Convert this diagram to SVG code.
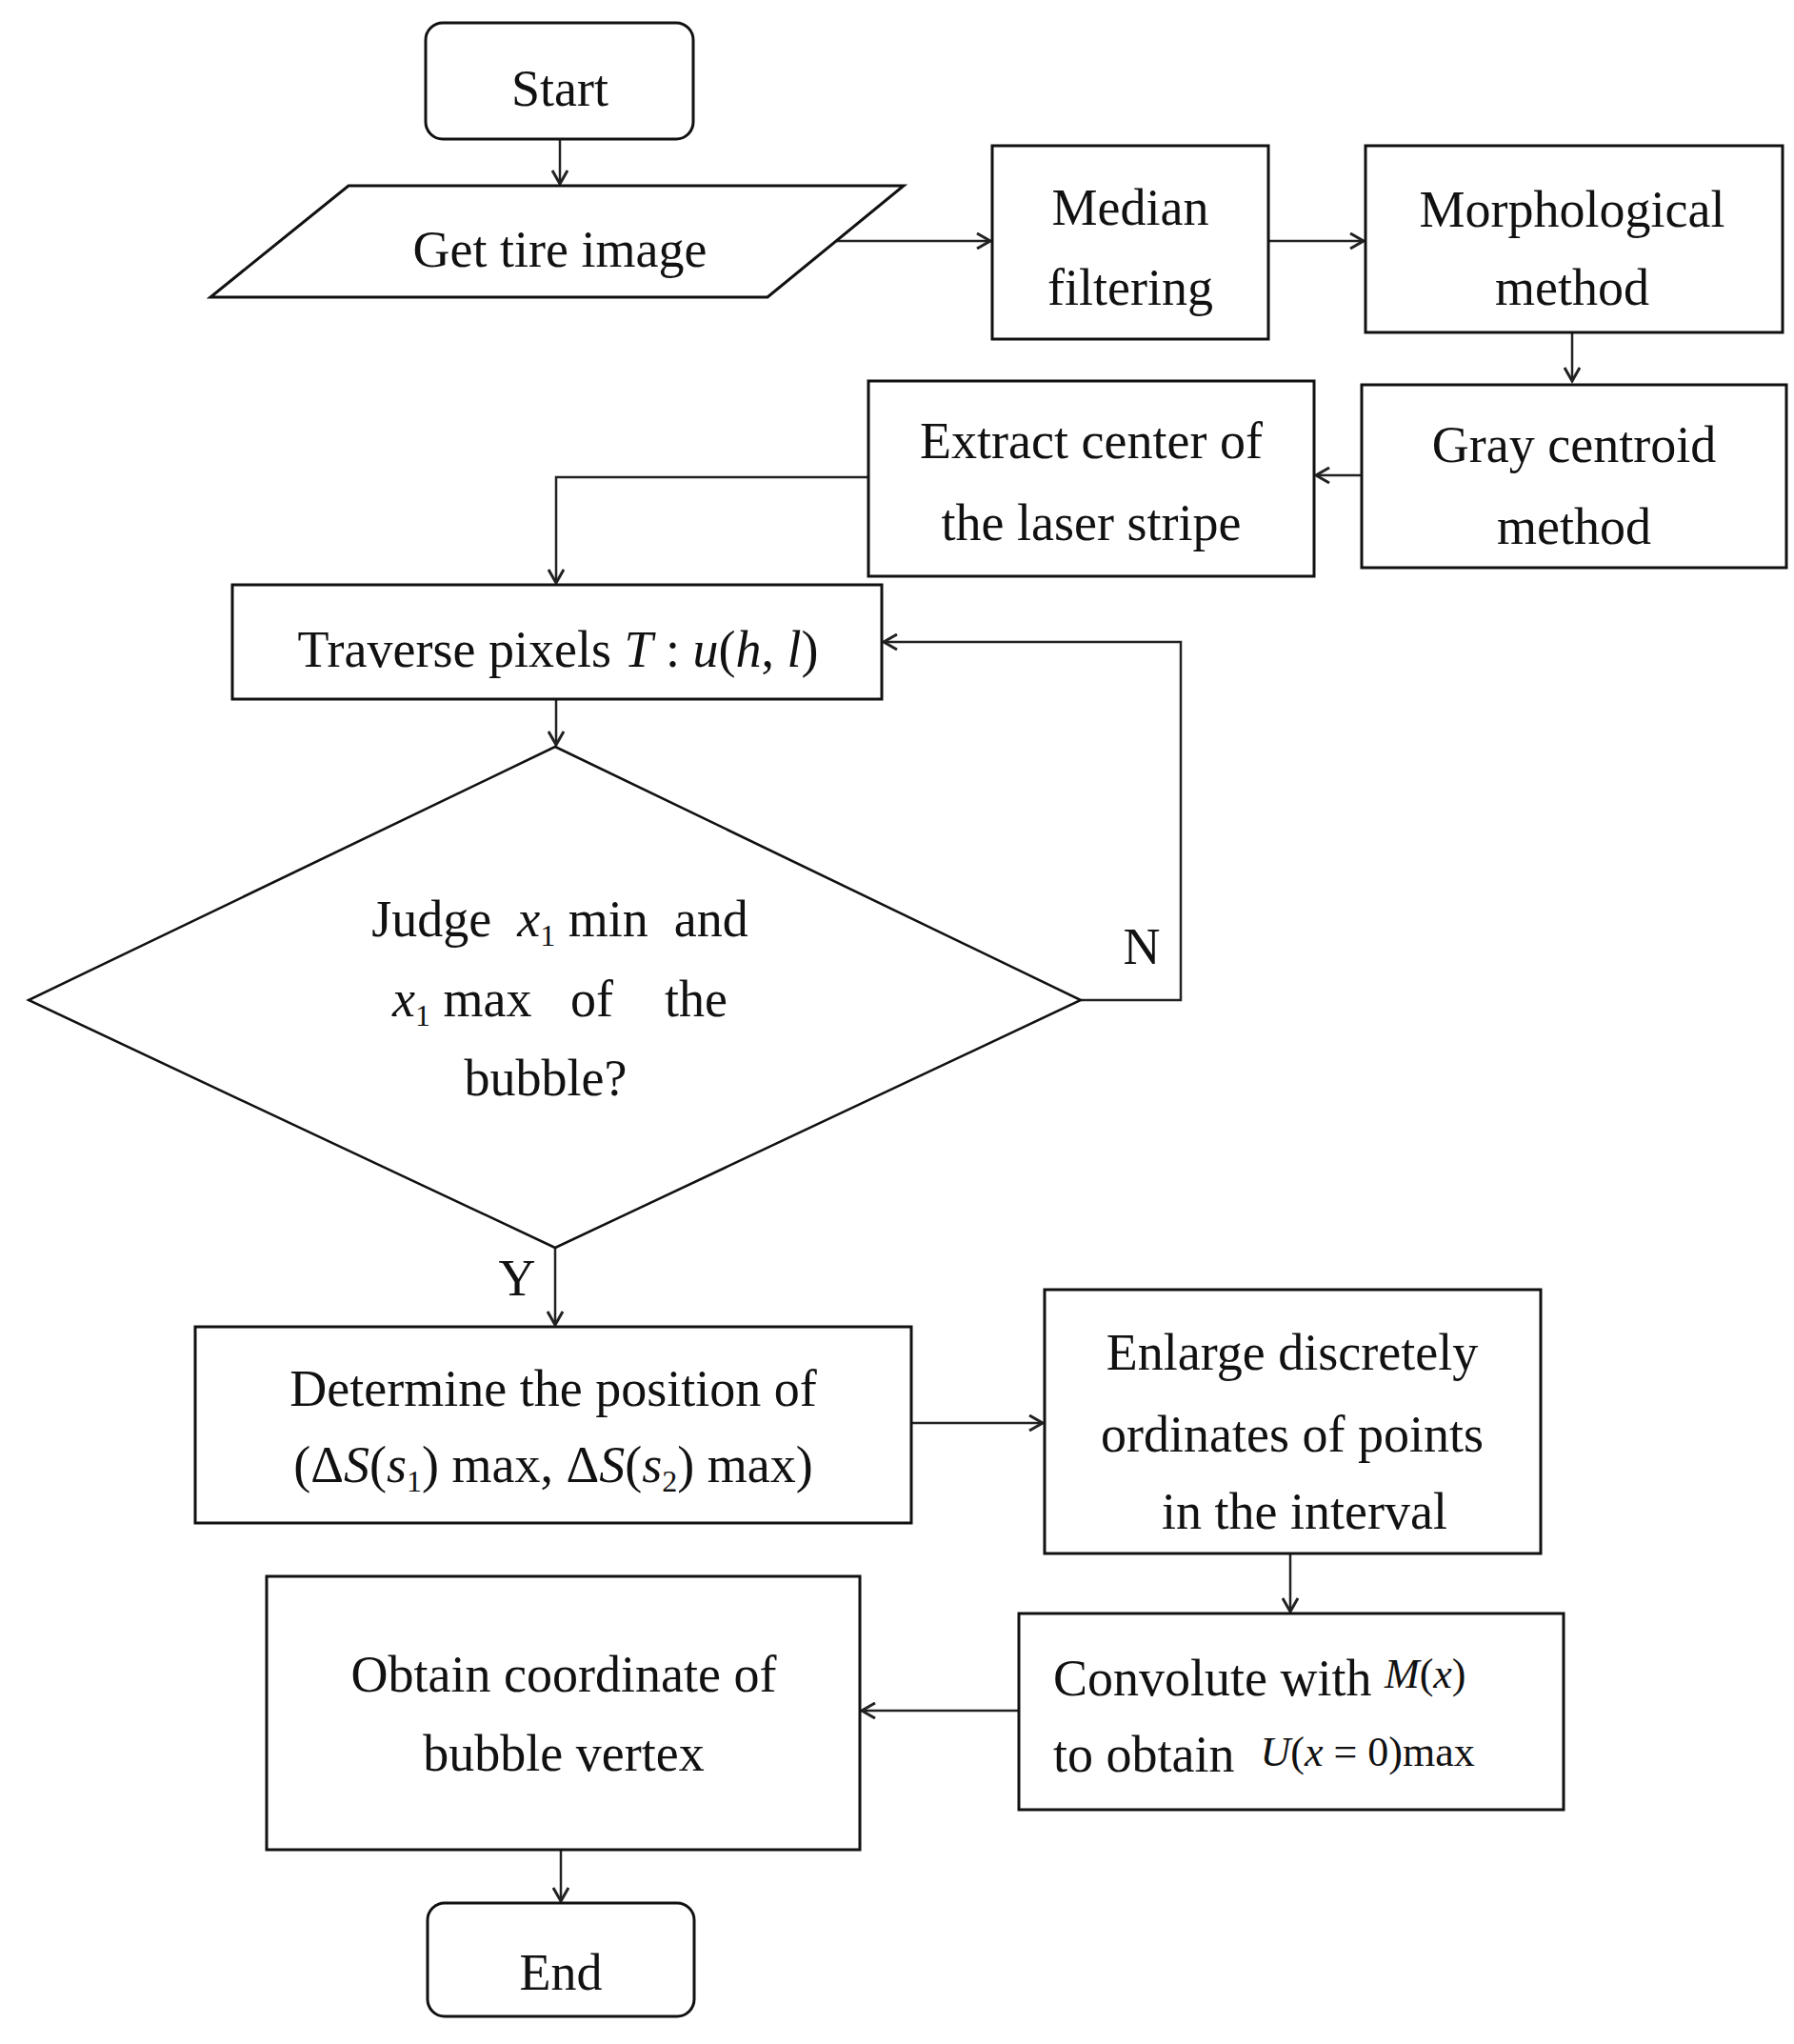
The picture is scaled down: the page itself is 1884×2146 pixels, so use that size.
<svg xmlns="http://www.w3.org/2000/svg" width="1884" height="2146" viewBox="0 0 1884 2146">
<style>
.b{fill:#fff;stroke:#111;stroke-width:3}
.c{fill:none;stroke:#222;stroke-width:2.5}
text{font-family:"Liberation Serif","Times New Roman",serif;font-size:54px;fill:#111;text-anchor:middle}
.i{font-style:italic}
.s{font-size:32px}
</style>
<defs>
<marker id="a" markerWidth="18" markerHeight="18" refX="15" refY="9" orient="auto" markerUnits="userSpaceOnUse">
<path d="M1,1 L15,9 L1,17" fill="none" stroke="#222" stroke-width="3"/>
</marker>
</defs>
<rect width="1884" height="2146" fill="#fff"/>
<g id="connectors" class="c">
<path d="M588,146 V193" marker-end="url(#a)"/>
<path d="M870,253 H1040" marker-end="url(#a)"/>
<path d="M1332,253 H1432" marker-end="url(#a)"/>
<path d="M1651,349 V400" marker-end="url(#a)"/>
<path d="M1430,499 H1382" marker-end="url(#a)"/>
<path d="M912,501 H584 V612" marker-end="url(#a)"/>
<path d="M584,734 V782" marker-end="url(#a)"/>
<path d="M1135,1050 H1240 V674 H928" marker-end="url(#a)"/>
<path d="M583,1310 V1391" marker-end="url(#a)"/>
<path d="M957,1494 H1095" marker-end="url(#a)"/>
<path d="M1355,1631 V1692" marker-end="url(#a)"/>
<path d="M1070,1796 H905" marker-end="url(#a)"/>
<path d="M589,1942 V1996" marker-end="url(#a)"/>
</g>
<g id="start"><rect class="b" x="447" y="24" width="281" height="122" rx="18"/><text x="588" y="111">Start</text></g>
<g id="input"><polygon class="b" points="366,195 949,195 806,312 221,312"/><text x="588" y="280">Get tire image</text></g>
<g id="median"><rect class="b" x="1042" y="153" width="290" height="203"/><text x="1187" y="236">Median</text><text x="1187" y="320">filtering</text></g>
<g id="morph"><rect class="b" x="1434" y="153" width="438" height="196"/><text x="1651" y="238">Morphological</text><text x="1651" y="320">method</text></g>
<g id="gray"><rect class="b" x="1430" y="404" width="446" height="192"/><text x="1653" y="485">Gray centroid</text><text x="1653" y="571">method</text></g>
<g id="extract"><rect class="b" x="912" y="400" width="468" height="205"/><text x="1146" y="481">Extract center of</text><text x="1146" y="567">the laser stripe</text></g>
<g id="traverse"><rect class="b" x="244" y="614" width="682" height="120"/><text x="586" y="700">Traverse pixels <tspan class="i">T</tspan> : <tspan class="i">u</tspan>(<tspan class="i">h</tspan>, <tspan class="i">l</tspan>)</text></g>
<g id="judge"><polygon class="b" style="stroke-width:2.5" points="583,784 1135,1050 583,1310 30,1050"/>
<text x="588" y="983" xml:space="preserve">Judge  <tspan class="i">x</tspan><tspan class="s" dy="10">1</tspan><tspan dy="-10"> min  and</tspan></text>
<text x="588" y="1067" xml:space="preserve"><tspan class="i">x</tspan><tspan class="s" dy="10">1</tspan><tspan dy="-10"> max   of    the</tspan></text>
<text x="573" y="1150">bubble?</text></g>
<text x="1199" y="1012">N</text>
<text x="543" y="1360">Y</text>
<g id="determine"><rect class="b" x="205" y="1393" width="752" height="206"/><text x="581" y="1476">Determine the position of</text>
<text x="581" y="1556">(Δ<tspan class="i">S</tspan>(<tspan class="i">s</tspan><tspan class="s" dy="10">1</tspan><tspan dy="-10">) max, Δ</tspan><tspan class="i">S</tspan>(<tspan class="i">s</tspan><tspan class="s" dy="10">2</tspan><tspan dy="-10">) max)</tspan></text></g>
<g id="enlarge"><rect class="b" x="1097" y="1354" width="521" height="277"/><text x="1357" y="1438">Enlarge discretely</text><text x="1357" y="1524">ordinates of points</text><text x="1370" y="1605">in the interval</text></g>
<g id="convolute"><rect class="b" x="1070" y="1694" width="572" height="206"/>
<text x="1106" y="1780" style="text-anchor:start">Convolute with <tspan class="i" font-size="44" dy="-8">M</tspan><tspan font-size="44">(</tspan><tspan class="i" font-size="44">x</tspan><tspan font-size="44">)</tspan></text>
<text x="1106" y="1860" style="text-anchor:start" xml:space="preserve">to obtain  <tspan font-size="44" dy="-6"><tspan class="i">U</tspan>(<tspan class="i">x</tspan> = 0)max</tspan></text></g>
<g id="obtain"><rect class="b" x="280" y="1655" width="623" height="287"/><text x="592" y="1776">Obtain coordinate of</text><text x="592" y="1859">bubble vertex</text></g>
<g id="end"><rect class="b" x="449" y="1998" width="280" height="119" rx="18"/><text x="589" y="2089">End</text></g>
</svg>
